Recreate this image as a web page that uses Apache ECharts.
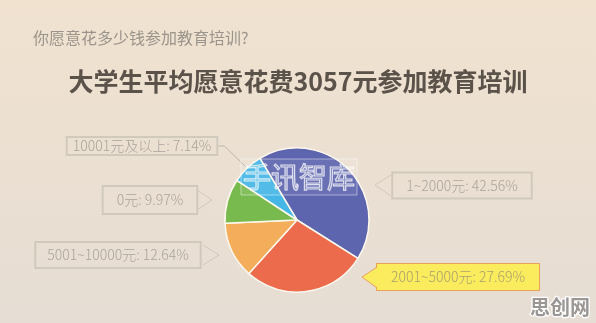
<!DOCTYPE html>
<html>
<head>
<meta charset="utf-8">
<script src="https://cdn.jsdelivr.net/npm/echarts@6/dist/echarts.min.js"></script>
<style>
html,body{margin:0;padding:0;}
#c{width:596px;height:323px;}
</style>
</head>
<body>
<div id="c"></div>
<script>
// ---- data ----
var categories = ['1~2000元', '2001~5000元', '5001~10000元', '0元', '10001元及以上'];
var shares = [42.56, 27.69, 12.64, 9.97, 7.14];
var subtitleText = '你愿意花多少钱参加教育培训?';
var titleText = '大学生平均愿意花费3057元参加教育培训';

// ---- layout / style (not data) ----
var sliceColors = ['#5d65ae', '#ec6b4c', '#f4ad5a', '#79ba4f', '#45b6e5'];
// label box centers
var labelPos = [[462, 185.5], [458, 277], [118, 255], [150, 200], [142, 146]];
var labelPad = [[5, 14], [5, 14], [5, 12], [6, 14], [1, 6]];
// pointer triangles: [tipX, tipY, baseX, baseY1, baseY2]
var pointers = [
  [375, 185, 391, 175, 196],
  [362, 277, 377, 267, 288],
  [219, 255, 203, 245, 265],
  [212, 200, 197, 190, 210]
];

var FONT = '"Noto Sans CJK SC", "Noto Sans", sans-serif';
var chart = echarts.init(document.getElementById('c'));

var pieData = categories.map(function (name, i) {
  var isYellow = i === 1;
  return {
    name: name,
    value: shares[i],
    itemStyle: { color: sliceColors[i] },
    label: {
      backgroundColor: isYellow ? '#fbec5e' : 'rgba(0,0,0,0)',
      borderColor: isYellow ? '#eaa15c' : '#d2c9bd',
      borderWidth: 1,
      padding: labelPad[i],
      color: isYellow ? '#a89f70' : '#aba49b'
    },
    labelLine: { show: i === 4 }
  };
});

var graphics = [];
pointers.forEach(function (p, i) {
  var yellow = i === 1;
  var inset = p[2] > p[0] ? 1 : -1;
  graphics.push({
    type: 'polygon',
    silent: true,
    z: 10,
    shape: { points: [[p[2] + inset, p[3]], [p[0], p[1]], [p[2] + inset, p[4]]] },
    style: { fill: yellow ? '#fbec5e' : 'rgba(0,0,0,0)', stroke: 'none' }
  });
  graphics.push({
    type: 'polyline',
    silent: true,
    z: 11,
    shape: { points: [[p[2], p[3]], [p[0], p[1]], [p[2], p[4]]] },
    style: { stroke: yellow ? '#eaa15c' : '#d2c9bd', lineWidth: 1, fill: null }
  });
});
// faint watermark over the pie
graphics.push({
  type: 'rect', silent: true, z: 8,
  shape: { x: 241, y: 159, width: 116, height: 36 },
  style: { fill: 'rgba(255,255,255,0.08)', stroke: 'rgba(255,255,255,0.45)', lineWidth: 1 }
});
graphics.push({
  type: 'text', silent: true, z: 9,
  style: {
    x: 299, y: 177, text: '手讯智库', align: 'center', verticalAlign: 'middle',
    font: '28px ' + FONT, fill: 'rgba(255,255,255,0.12)', stroke: 'rgba(255,255,255,0.75)', lineWidth: 1.2
  }
});
graphics.push({
  type: 'text', silent: true, z: 20,
  style: {
    x: 560, y: 307, text: '思创网', align: 'center', verticalAlign: 'middle',
    font: 'bold 20px ' + FONT, fill: '#9a9795', stroke: '#ffffff', lineWidth: 2.5
  }
});

chart.setOption({
  animation: false,
  backgroundColor: {
    type: 'linear', x: 0, y: 0, x2: 0, y2: 1,
    colorStops: [{ offset: 0, color: '#f0e2cf' }, { offset: 1, color: '#e6ddd4' }]
  },
  title: [
    {
      text: subtitleText, left: 28, top: 25,
      textStyle: { fontFamily: FONT, fontSize: 16, fontWeight: 'normal', color: '#9b948b' }
    },
    {
      text: titleText, left: 'center', top: 64,
      textStyle: { fontFamily: FONT, fontSize: 25, fontWeight: 'bold', color: '#5b5249' }
    }
  ],
  graphic: graphics,
  series: [{
    type: 'pie',
    center: [297, 220],
    radius: 72,
    startAngle: 121,
    clockwise: true,
    avoidLabelOverlap: false,
    itemStyle: { borderColor: '#fdf8ee', borderWidth: 1.5 },
    label: {
      show: true,
      formatter: function (p) { return p.name + ': ' + p.value.toFixed(2) + '%'; },
      fontFamily: FONT,
      fontSize: 14,
      fontWeight: 300,
      lineHeight: 16
    },
    labelLine: { show: true, length: 6, length2: 6, lineStyle: { color: '#bdb5aa', width: 1 } },
    labelLayout: function (params) {
      var pos = labelPos[params.dataIndex];
      return { x: pos[0], y: pos[1], align: 'center', verticalAlign: 'middle' };
    },
    emphasis: { disabled: true },
    data: pieData
  }]
});
</script>
</body>
</html>
